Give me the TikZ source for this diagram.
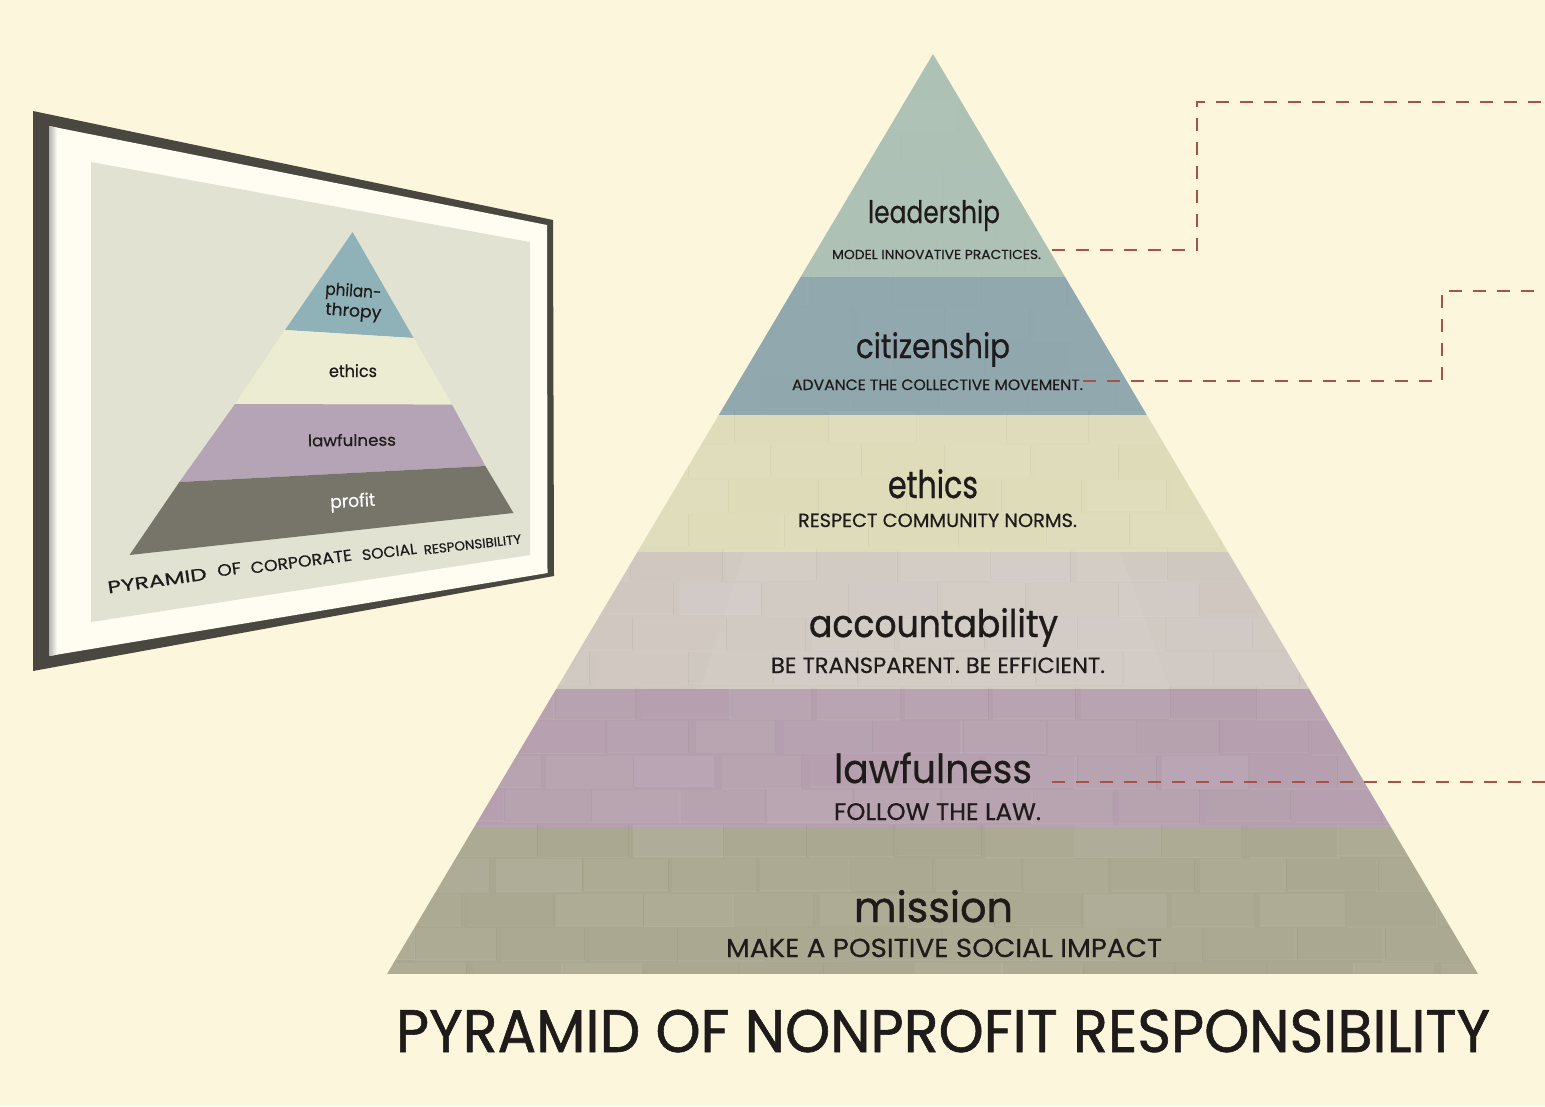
\documentclass[tikz,border=0pt]{standalone}
\usepackage{fontspec}
\usepackage{graphicx}
\setmainfont{Poppins}
\newfontfamily\fbA{Poppins}[FakeBold=0.5]
\newfontfamily\fbB{Poppins}[FakeBold=1.0]
\newcommand{\fitw}[3]{\resizebox{#1pt}{\height}{\fontsize{#2pt}{#2pt}\fbA\selectfont #3}}
\newcommand{\fitb}[3]{\resizebox{#1pt}{\height}{\fontsize{#2pt}{#2pt}\fbB\selectfont #3}}
\definecolor{bgc}{HTML}{FCF6DC}
\definecolor{inkc}{HTML}{1E1B1A}
\definecolor{dashc}{HTML}{A5524A}
\definecolor{framec}{HTML}{4A4640}
\definecolor{matc}{HTML}{FFFDF2}
\definecolor{posterc}{HTML}{E2E2D3}
\definecolor{bandA}{HTML}{ADC1B5}
\definecolor{bandB}{HTML}{90A7AE}
\definecolor{bandC}{HTML}{DEDBB8}
\definecolor{bandD}{HTML}{CFC7C0}
\definecolor{bandE}{HTML}{B59FAE}
\definecolor{bandF}{HTML}{AAA790}
\definecolor{smallA}{HTML}{8FB2B8}
\definecolor{smallB}{HTML}{ECECD2}
\definecolor{smallC}{HTML}{B4A4B5}
\definecolor{smallD}{HTML}{77756A}
\tikzset{
  txt/.style={inner sep=0pt,outer sep=0pt,anchor=base,text=inkc},
  link/.style={draw=dashc,line width=1.8pt,dash pattern=on 13pt off 11pt},
}
\begin{document}
\begin{tikzpicture}[x=1pt,y=-1pt]
\path[use as bounding box,fill=bgc] (0,0) rectangle (1545,1106);

% framed poster
\fill[framec] (33,111)--(553,220)--(554,576)--(33,671)--cycle;
\fill[matc] (49,126)--(547,225)--(547.5,573)--(49,656)--cycle;
\shade[left color=black!30,right color=matc] (49,126)--(57,127.6)--(57,654.7)--(49,656)--cycle;
\fill[posterc] (91,162)--(530,242)--(530,555)--(91,622)--cycle;
\fill[smallA] (352.6,232)--(413.6,338)--(285,330)--cycle;
\fill[smallB] (285,330)--(413.6,338)--(452,404.6)--(235,404)--cycle;
\fill[smallC] (235,404)--(452,404.6)--(485.4,466)--(179.4,482)--cycle;
\fill[smallD] (179.4,482)--(485.4,466)--(513.5,513)--(129.5,555)--cycle;

\node[txt,rotate=-4] (philA) at (353,296.5) {\fitw{56}{17}{philan-}};
\node[txt,rotate=-4] (philB) at (353,316.5) {\fitw{56}{17}{thropy}};
\node[txt] (sethics) at (353,377) {\fitw{48}{17}{ethics}};
\node[txt,rotate=0.5] (slaw) at (352,446) {\fitw{88}{16}{lawfulness}};
\node[txt,rotate=3,text=white] (sprofit) at (353,507) {\fitw{45}{18}{profit}};

\node[txt,rotate=8] (wa) at (158,586.5) {\fitw{100}{17}{PYRAMID}};
\node[txt,rotate=8] (wb) at (230,575) {\fitw{24}{16.5}{OF}};
\node[txt,rotate=7.5] (wc) at (302,567) {\fitw{102}{16}{CORPORATE}};
\node[txt,rotate=7] (wd) at (390,557) {\fitw{55}{15}{SOCIAL}};
\node[txt,rotate=6.5] (we) at (473,549) {\fitw{98}{13}{RESPONSIBILITY}};

% main pyramid
\begin{scope}
\clip (933,54)--(1478,974)--(387,974)--cycle;
\fill[bandA] (380,54) rectangle (1490,277);
\fill[bandB] (380,277) rectangle (1490,415);
\fill[bandC] (380,415) rectangle (1490,552);
\fill[bandD] (380,552) rectangle (1490,689);
\fill[bandE] (380,689) rectangle (1490,827);
\fill[bandF] (380,827) rectangle (1490,974);
\fill[white,opacity=0.06] (745,552)--(1120,552)--(1170,689)--(700,689)--cycle;
\pgfmathsetseed{4711}
\foreach \r in {0,...,25}{
  \pgfmathsetmacro{\yy}{100+\r*34.5}
  \pgfmathsetmacro{\off}{mod(\r,2)*44-60+rnd*24}
  \pgfmathsetmacro{\vis}{\r<9 ? 0.3 : 1}
  \foreach \c in {0,...,13}{
    \pgfmathsetmacro{\xa}{380+\c*88+\off}
    \pgfmathsetmacro{\xb}{\xa+80+rnd*12}
    \pgfmathsetmacro{\yb}{\yy+31+rnd*3}
    \pgfmathsetmacro{\lop}{(0.01+rnd*0.06)*\vis}
    \pgfmathsetmacro{\dop}{0.035*\vis}
    \fill[white,opacity=\lop] (\xa,\yy) rectangle (\xb,\yb);
    \draw[black,opacity=\dop,line width=1pt] (\xb,\yy) -- (\xb,\yb);
    \draw[white,opacity=\dop*1.6,line width=1.4pt] (\xa,\yb) -- (\xb,\yb);
  }
}
\end{scope}

% pyramid texts
\node[txt] (lead) at (934,223) {\fitw{132}{31}{leadership}};
\node[txt] (leadsub) at (936.5,259) {\fitw{209}{13}{MODEL INNOVATIVE PRACTICES.}};
\node[txt] (citi) at (933,358) {\fitw{154}{34}{citizenship}};
\node[txt] (citisub) at (937.5,390) {\fitw{291}{15}{ADVANCE THE COLLECTIVE MOVEMENT.}};
\node[txt] (eth) at (933,498) {\fitb{90}{38}{ethics}};
\node[txt] (ethsub) at (937.5,527) {\fitw{279}{19}{RESPECT COMMUNITY NORMS.}};
\node[txt] (acc) at (933.5,637) {\fitb{249}{38}{accountability}};
\node[txt] (accsub) at (938,673) {\fitw{334}{22}{BE TRANSPARENT. BE EFFICIENT.}};
\node[txt] (law) at (933,783) {\fitw{198}{40}{lawfulness}};
\node[txt] (lawsub) at (937.5,820) {\fitw{207}{24}{FOLLOW THE LAW.}};
\node[txt] (mis) at (933.5,922) {\fitb{159}{42}{mission}};
\node[txt] (missub) at (944,957) {\fitw{436}{26}{MAKE A POSITIVE SOCIAL IMPACT}};
\node[txt] (maintitle) at (943,1052) {\fitb{1094}{60}{PYRAMID OF NONPROFIT RESPONSIBILITY}};

% connectors
\coordinate (ls) at (1052,250);
\coordinate (la) at (1197,250);
\coordinate (lb) at (1197,102);
\coordinate (le) at (1545,102);
\coordinate (cs) at (1083,381);
\coordinate (ca) at (1442,381);
\coordinate (cb) at (1442,291);
\coordinate (ce) at (1545,291);
\coordinate (ws) at (1052,782);
\coordinate (we2) at (1545,782);
\draw[link] (ls)--(la)--(lb)--(le);
\draw[link] (cs)--(ca)--(cb)--(ce);
\draw[link] (ws)--(we2);
\end{tikzpicture}
\end{document}
